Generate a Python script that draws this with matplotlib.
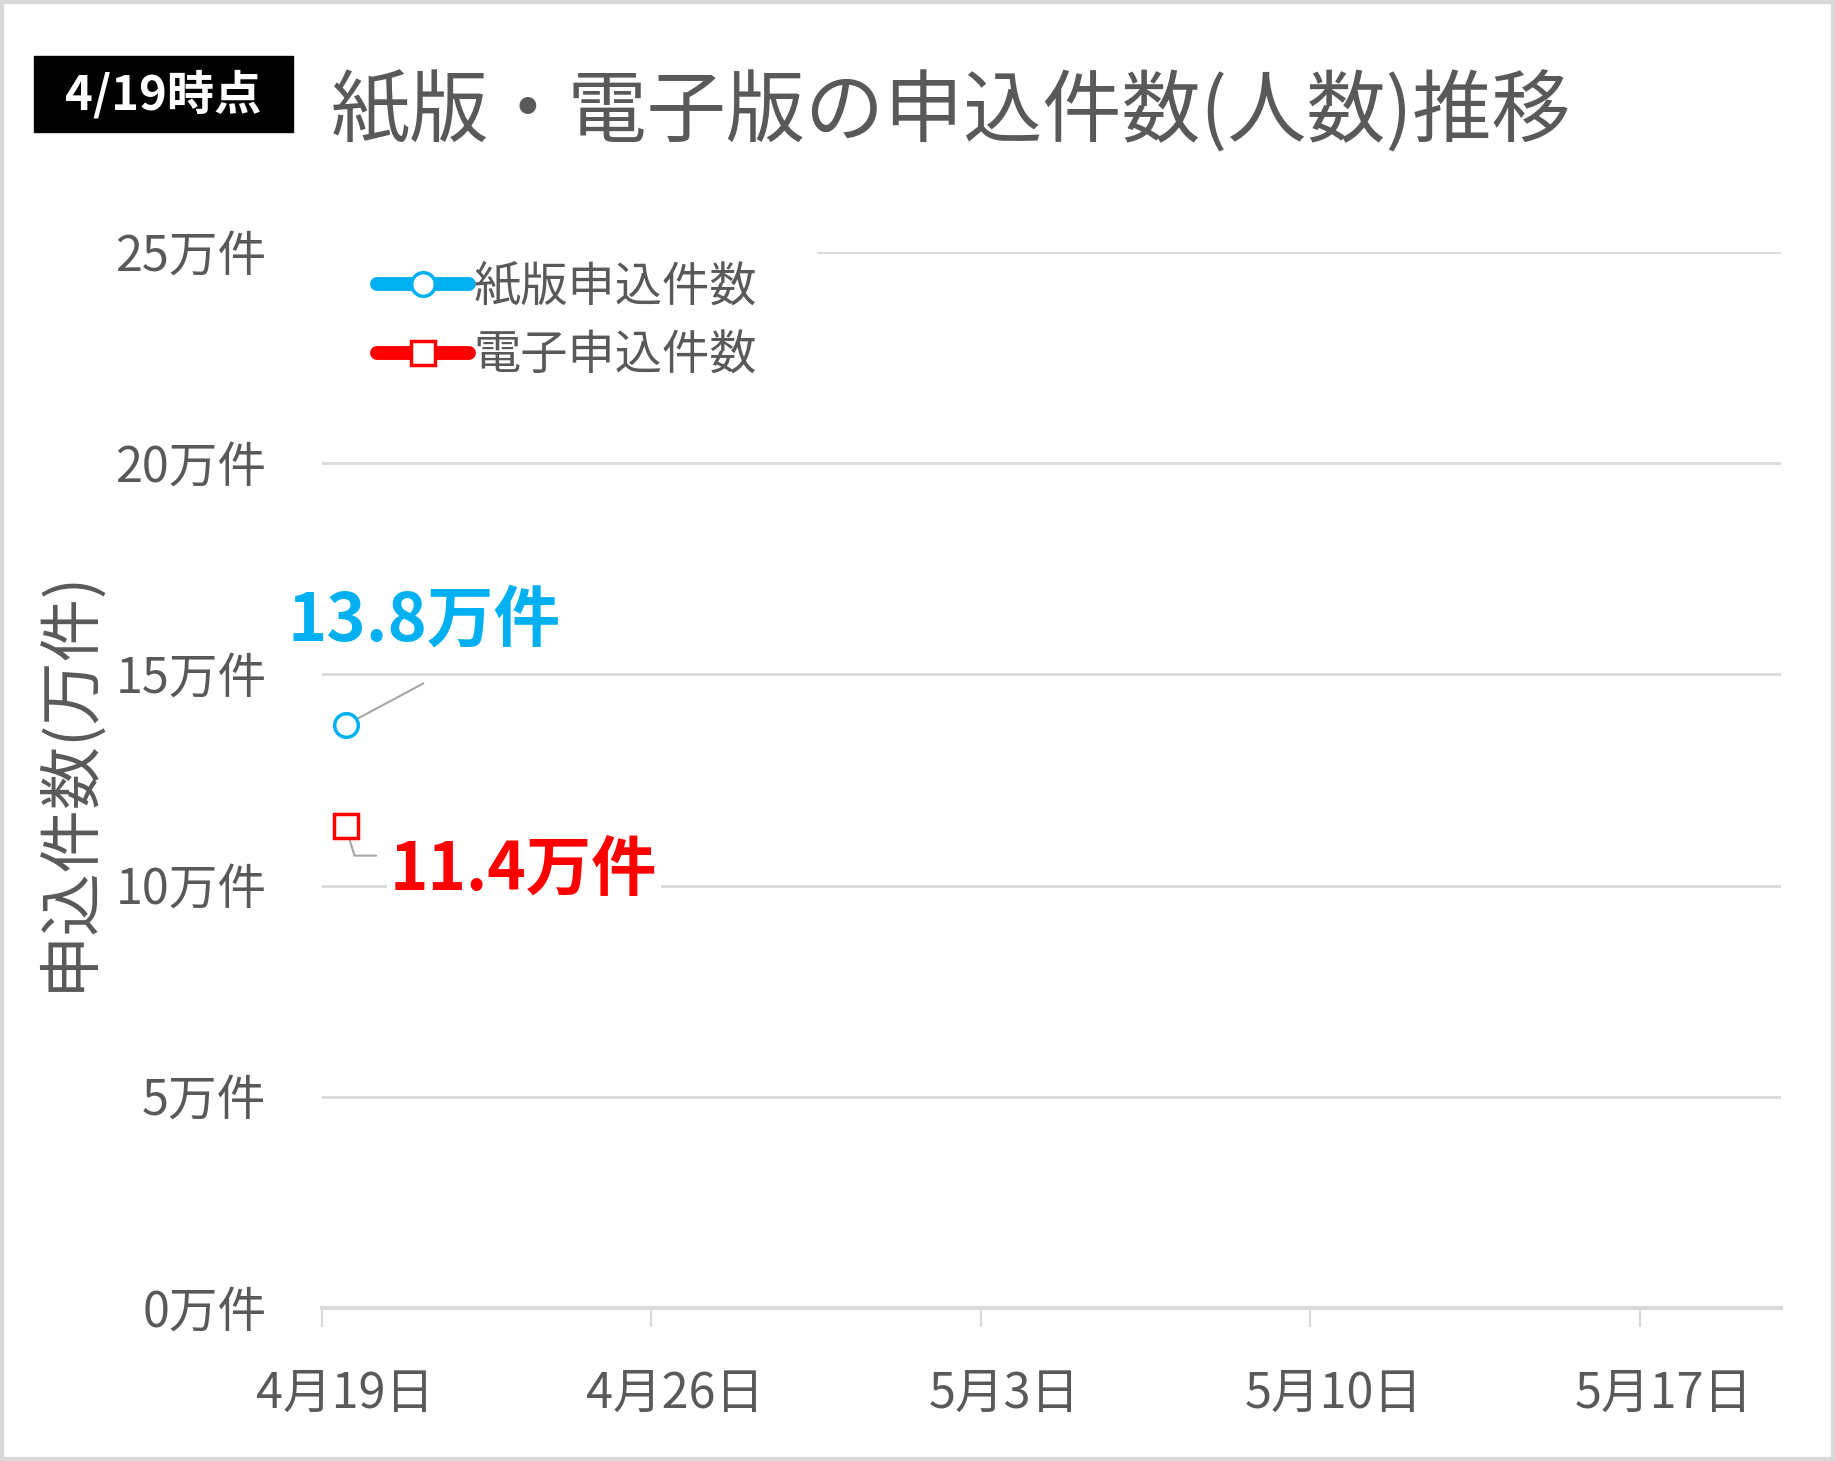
import numpy as np
import matplotlib
matplotlib.use("Agg")
import matplotlib.pyplot as plt
from matplotlib.patches import Rectangle

plt.rcParams['font.family'] = ['Noto Sans CJK JP', 'DejaVu Sans']

# data (単位: 万件)
dates = np.array(['2020-04-19'], dtype='datetime64[D]')
paper = [13.8]
electronic = [11.4]
series_names = ['紙版申込件数', '電子申込件数']
y_ticks = [0, 5, 10, 15, 20, 25]
x_tick_dates = np.array(['2020-04-19', '2020-04-26', '2020-05-03',
                         '2020-05-10', '2020-05-17'], dtype='datetime64[D]')
x_tick_labels = ['4月19日', '4月26日', '5月3日', '5月10日', '5月17日']
title = '紙版・電子版の申込件数(人数)推移'
badge = '4/19時点'

BLUE = '#00B0F0'
RED = '#FF0000'
GRAY_TXT = '#595959'
GRID = '#d9d9d9'
LEADER = '#a6a6a6'

half_day = np.timedelta64(12, 'h')

fig = plt.figure(figsize=(18.35, 14.61), dpi=100)
ax = fig.add_axes([322/1835, 153/1461, (1781-322)/1835, (1308-252)/1461])

x = dates.astype('datetime64[h]') + half_day
ax.plot(x, paper, color=BLUE, lw=10, marker='o', ms=17, mfc='white',
        mec=BLUE, mew=2.5, solid_capstyle='round', label=series_names[0], zorder=5)
ax.plot(x, electronic, color=RED, lw=10, marker='s', ms=17, mfc='white',
        mec=RED, mew=2.5, solid_capstyle='round', label=series_names[1], zorder=5)

# axes
ax.set_ylim(0, 25)
ax.set_xlim(dates[0], dates[0] + np.timedelta64(31, 'D'))
ax.set_yticks(y_ticks)
ax.set_yticklabels([f'{v}万件' for v in y_ticks])
ax.tick_params(axis='y', length=0, pad=40, labelsize=35, labelcolor=GRAY_TXT)
ax.grid(axis='y', color=GRID, lw=2)
ax.set_axisbelow(True)

ax.set_xticks(x_tick_dates)
ax.set_xticklabels([])
ax.set_xticks(x_tick_dates.astype('datetime64[h]') + half_day, minor=True)
ax.set_xticklabels(x_tick_labels, minor=True)
ax.tick_params(axis='x', which='major', length=14, width=1.5, color=GRID,
               direction='out')
ax.tick_params(axis='x', which='minor', length=0, pad=44, labelsize=35,
               labelcolor=GRAY_TXT)

for s in ['top', 'right', 'left']:
    ax.spines[s].set_visible(False)
ax.spines['bottom'].set_color(GRID)
ax.spines['bottom'].set_linewidth(3)

ax.set_ylabel('申込件数(万件)', fontsize=45.5, color=GRAY_TXT)
ax.yaxis.label.set_va('center')
ax.yaxis.set_label_coords(-0.174, 0.5)

leg = ax.legend(loc='upper left', bbox_to_anchor=(-0.003, 1.045), fontsize=34,
                frameon=True, facecolor='white', edgecolor='white',
                framealpha=1, handlelength=1.95, handletextpad=0.1,
                labelspacing=0.42, borderpad=1.25, borderaxespad=0)
for t in leg.get_texts():
    t.set_color(GRAY_TXT)

# data labels with leader lines
ax.annotate('', xy=(x[0], paper[0]), xytext=(56, 30), textcoords='offset points',
            arrowprops=dict(arrowstyle='-', color=LEADER, lw=1.5,
                            shrinkA=0, shrinkB=0))
ax.annotate(f'{paper[0]}万件', xy=(x[0], paper[0]), xytext=(-42, 75),
            textcoords='offset points', ha='left', va='center',
            fontsize=48, fontweight='bold', color=BLUE)

ax.annotate('', xy=(x[0], electronic[0]), xytext=(22, -21),
            textcoords='offset points',
            arrowprops=dict(arrowstyle='-', color=LEADER, lw=1.5,
                            shrinkA=0, shrinkB=0,
                            connectionstyle='angle,angleA=0,angleB=-73,rad=0'))
ax.annotate(f'{electronic[0]}万件', xy=(x[0], electronic[0]), xytext=(32, -32),
            textcoords='offset points', ha='left', va='center',
            fontsize=47, fontweight='bold', color=RED,
            bbox=dict(boxstyle='square,pad=0.05', fc='white', ec='none'))

# title and badge
fig.text(331/1835, 1 - 113/1461, title, ha='left', va='center',
         fontsize=57, color=GRAY_TXT)
fig.patches.append(Rectangle((34/1835, 1 - 132/1461), 259/1835, 76/1461,
                             transform=fig.transFigure, color='black'))
fig.text(163/1835, 1 - 95/1461, badge, ha='center', va='center',
         fontsize=34, fontweight='bold', color='white')

# outer frame
fig.patches.append(Rectangle((0, 0), 1, 1, transform=fig.transFigure,
                             fill=False, edgecolor=GRID, lw=6))

fig.savefig('out.png', dpi=100)
